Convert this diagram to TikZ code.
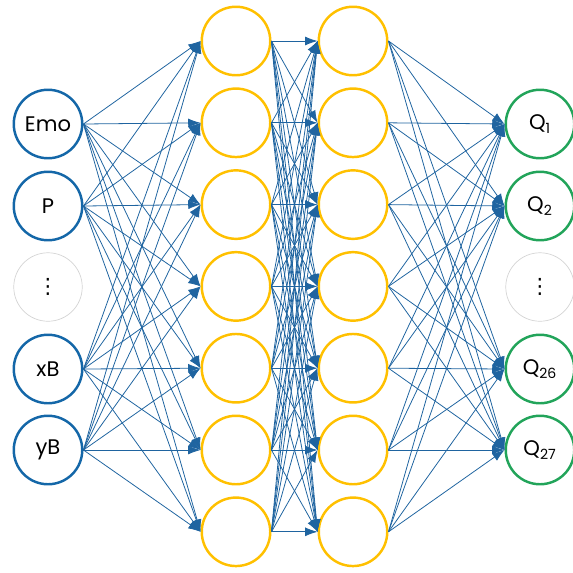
\documentclass[tikz,border=0pt]{standalone}
\usepackage{fontspec}
\setmainfont{Poppins}
\newfontfamily\dotsfont{DejaVu Sans}
\usetikzlibrary{arrows.meta}
\definecolor{inblue}{HTML}{1467A8}
\definecolor{hidgold}{HTML}{FFC000}
\definecolor{outgreen}{HTML}{22A45A}
\definecolor{edgeblue}{HTML}{1F64A0}
\definecolor{dotgray}{HTML}{D4D4D4}

\begin{document}
\begin{tikzpicture}[x=0.02cm,y=-0.02cm,
  neuron/.style={circle,minimum size=1.37cm,inner sep=0pt,line width=1.4pt,font=\fontsize{12}{14}\selectfont},
  conn/.style={-{Latex[length=7pt,width=5pt]},edgeblue,line width=0.45pt}]
\useasboundingbox (0,0) rectangle (573,572);
% input layer
\foreach \i/\yy/\lab in {1/124/Emo,2/206/P,4/369/xB,5/450/yB}{
  \node[neuron,draw=inblue] (in\i) at (48,\yy) {\lab};}
\node[neuron,draw=dotgray,line width=0.4pt] (in3) at (48,287) {\dotsfont ⋮};
% hidden layers
\foreach \j in {1,...,7}{
  \node[neuron,draw=hidgold] (ha\j) at (236,{41+81.8*(\j-1)}) {};
  \node[neuron,draw=hidgold] (hb\j) at (353,{41+81.8*(\j-1)}) {};}
% output layer
\foreach \i/\yy/\lab in {1/124/1,2/206/2,4/369/26,5/450/27}{
  \node[neuron,draw=outgreen] (out\i) at (540,\yy) {Q\textsubscript{\lab}};}
\node[neuron,draw=dotgray,line width=0.4pt] (out3) at (540,287) {\dotsfont ⋮};
% connections
\foreach \i in {1,2,4,5}{\foreach \j in {1,...,7}{\draw[conn] (in\i.east) -- (ha\j.west);}}
\foreach \i in {1,...,7}{\foreach \j in {1,...,7}{\draw[conn] (ha\i.east) -- (hb\j.west);}}
\foreach \i in {1,...,7}{\foreach \j in {1,2,4,5}{\draw[conn] (hb\i.east) -- (out\j.west);}}
\end{tikzpicture}
\end{document}
